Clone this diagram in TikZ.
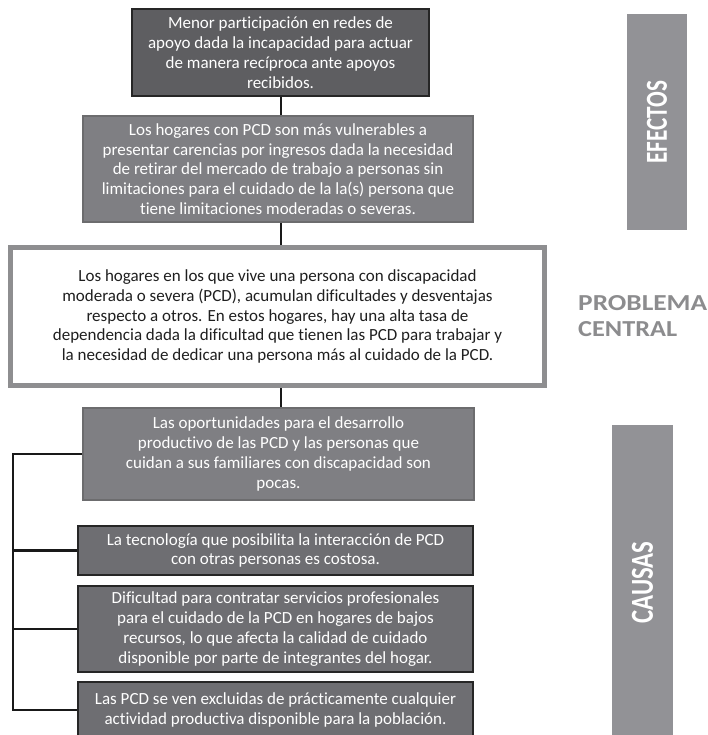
\documentclass[tikz,border=0pt]{standalone}
\usepackage{fontspec}
\setmainfont{Carlito}[RawFeature={-liga;-clig;-calt}]

\definecolor{darkfill}{HTML}{5E5E61}
\definecolor{causefill}{HTML}{6E6E72}
\definecolor{midfill}{HTML}{7F7F83}
\definecolor{midline}{HTML}{6C6C6E}
\definecolor{centralline}{HTML}{8E8E90}
\definecolor{barfill}{HTML}{929296}
\definecolor{labelgray}{HTML}{8C8C8E}

\begin{document}
\begin{tikzpicture}[x=1pt, y=-1pt,
  every node/.style={inner sep=0pt, align=center, font=\fontsize{17}{19.8}\selectfont},
  darkbox/.style={draw=black!85, line width=2pt, fill=darkfill, text=white},
  causebox/.style={draw=black!85, line width=2pt, fill=causefill, text=white},
  midbox/.style={draw=midline, line width=1.5pt, fill=midfill, text=white},
  centralbox/.style={draw=centralline, line width=5pt, fill=white, text=black!88},
  sidebar/.style={fill=barfill, text=white, rotate=90, font=\bfseries},
  connector/.style={line width=2.8pt, black!90}]
\clip (0,0) rectangle (707,735);

% effects
\node[darkbox, minimum width=297, minimum height=87] (efecto1) at (280.5,52.5)
  {Menor participación en redes de\\ apoyo dada la incapacidad para actuar\\ de manera recíproca ante apoyos\\ recibidos.};
\node[midbox, minimum width=390, minimum height=106] (efecto2) at (278,169)
  {Los hogares con PCD son más vulnerables a\\ presentar carencias por ingresos dada la necesidad\\ de retirar del mercado de trabajo a personas sin\\ limitaciones para el cuidado de la la(s) persona que\\ tiene limitaciones moderadas o severas.};

% central problem
\node[centralbox, minimum width=534, minimum height=138] (problema) at (277.5,316.5)
  {Los hogares en los que vive una persona con discapacidad\\ moderada o severa (PCD), acumulan dificultades y desventajas\\ respecto a otros. En estos hogares, hay una alta tasa de\\ dependencia dada la dificultad que tienen las PCD para trabajar y\\ la necesidad de dedicar una persona más al cuidado de la PCD.};

% causes
\node[midbox, minimum width=391, minimum height=92] (causa1) at (278.5,454)
  {Las oportunidades para el desarrollo\\ productivo de las PCD y las personas que\\ cuidan a sus familiares con discapacidad son\\ pocas.};
\node[causebox, minimum width=395, minimum height=49] (causa2) at (275.5,550.5)
  {La tecnología que posibilita la interacción de PCD\\ con otras personas es costosa.};
\node[causebox, minimum width=395, minimum height=86] (causa3) at (275.5,629)
  {Dificultad para contratar servicios profesionales\\ para el cuidado de la PCD en hogares de bajos\\ recursos, lo que afecta la calidad de cuidado\\ disponible por parte de integrantes del hogar.};
\node[causebox, minimum width=395, minimum height=56] (causa4) at (275.5,710)
  {Las PCD se ven excluidas de prácticamente cualquier\\ actividad productiva disponible para la población.};

% side labels
\node[sidebar, minimum width=216, minimum height=60] (barEfectos) at (657,122)
  {\resizebox{83pt}{20pt}{EFECTOS}};
\node[sidebar, minimum width=315, minimum height=61] (barCausas) at (642.5,582.5)
  {\resizebox{82pt}{21pt}{CAUSAS}};
\node[anchor=west, align=left, text=labelgray, font=\fontsize{23}{26}\selectfont\bfseries] (lblProblema) at (578,316)
  {\resizebox{129pt}{15pt}{PROBLEMA}\\ \resizebox{99pt}{15pt}{CENTRAL}};

% connectors
\coordinate (axis) at (281,0);
\coordinate (spine) at (13,0);
\draw[connector] (efecto1.south -| axis) -- (efecto2.north -| axis);
\draw[connector] (efecto2.south -| axis) -- (problema.north -| axis);
\draw[connector] (problema.south -| axis) -- (causa1.north -| axis);
\draw[connector] (causa1.west) -- (causa1.west -| spine) -- (causa4.west -| spine) -- (causa4.west);
\foreach \c in {causa2,causa3}
  \draw[connector] (\c.west) -- (\c.west -| spine);
\end{tikzpicture}
\end{document}
